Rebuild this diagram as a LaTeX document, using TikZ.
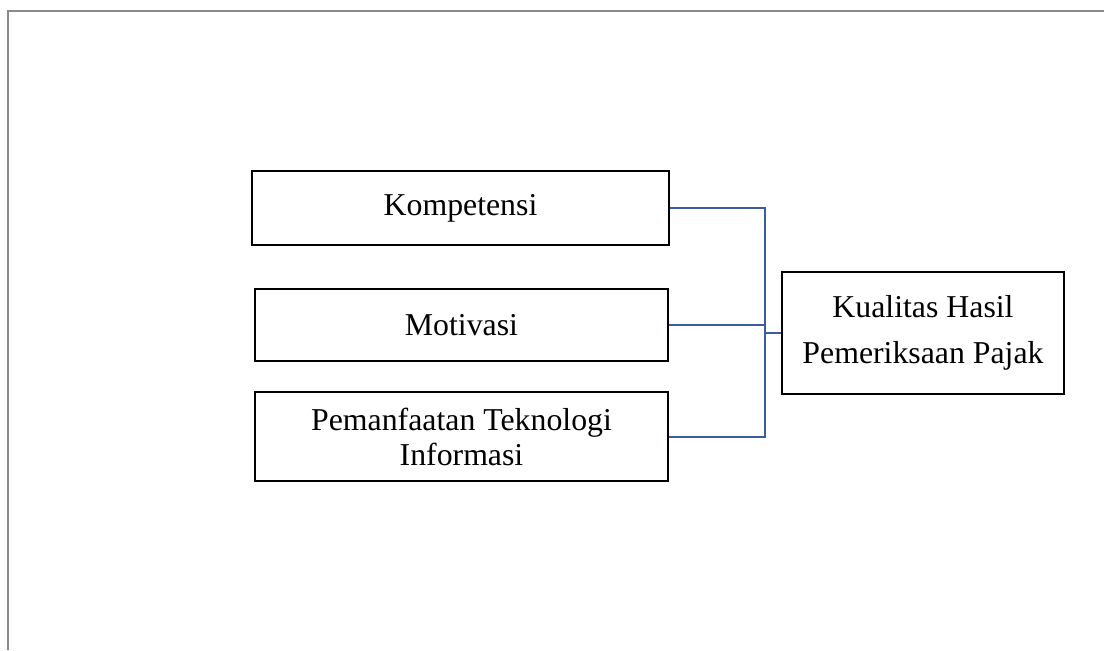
\documentclass[tikz,border=0pt]{standalone}
\usepackage{fontspec}
\setmainfont{Liberation Serif}
\usepackage{xcolor}
\usepackage{tikz}
\usetikzlibrary{positioning,calc}
\definecolor{linkblue}{HTML}{3B5CA5}
\definecolor{framegray}{HTML}{8A8A8A}

\begin{document}
\begin{tikzpicture}[
    x=0.5pt, y=-0.5pt,
    var/.style={rectangle, draw, line width=1.2pt, inner sep=0pt, align=center, font=\fontsize{15.9}{17.5}\selectfont},
    link/.style={linkblue, line width=1pt},
    frameline/.style={framegray, line width=1.1pt},
]
\useasboundingbox (0,0) rectangle (1104,650);
\draw[frameline] (8,650) -- (8,11) -- (1104,11);
\node[var, minimum width=208.5pt, minimum height=37pt] (komp) at (460.5,208) {Kompetensi};
\node[var, minimum width=206.5pt, minimum height=36pt] (motiv) at (461.5,325) {Motivasi};
\node[var, minimum width=206.5pt, minimum height=44.5pt] (tekno) at (461.5,436.5) {Pemanfaatan Teknologi\\Informasi};
\node[var, minimum width=141pt, minimum height=61pt, font=\fontsize{15.9}{23}\selectfont] (kual) at (923,333) {Kualitas Hasil\\Pemeriksaan Pajak};
\coordinate (bus) at (765,333);
\draw[link] (komp.east) -| (bus);
\draw[link] (tekno.east) -| (bus);
\draw[link] (motiv.east) -- (motiv.east -| bus);
\draw[link] (bus) -- (kual.west);
\end{tikzpicture}
\end{document}
